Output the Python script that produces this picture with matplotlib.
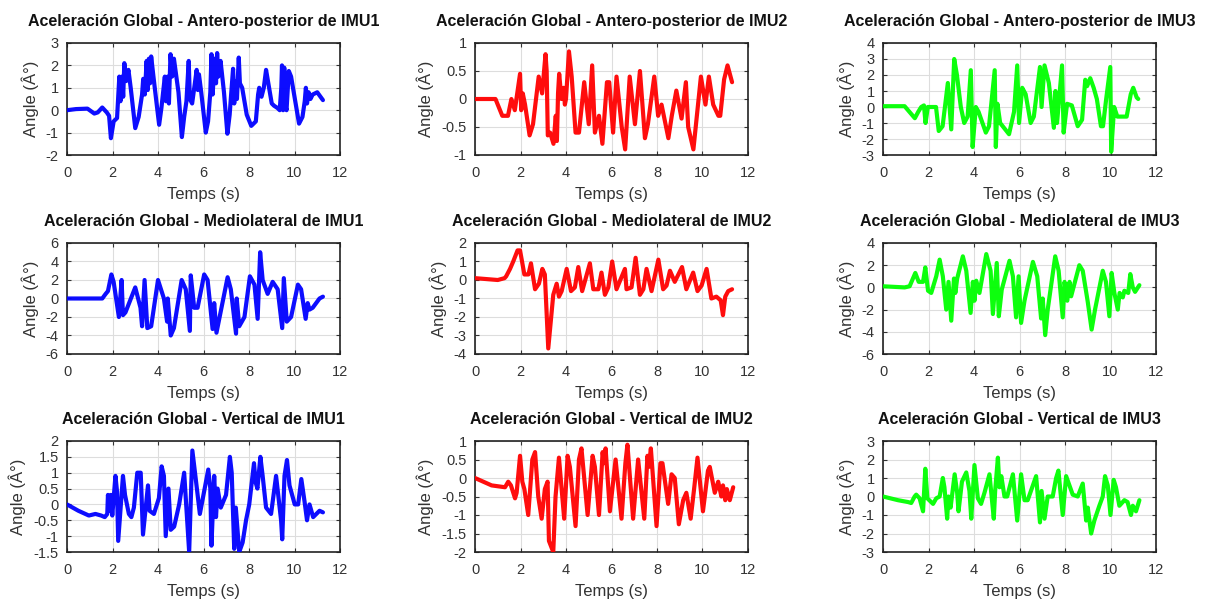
import matplotlib
matplotlib.use("Agg")
import matplotlib.pyplot as plt
import numpy as np

plt.rcParams['font.family'] = ['Liberation Sans', 'DejaVu Sans']

# ---- Antero-posterior ----
ap1_t = [0, 0.4, 0.9, 1.2, 1.35, 1.55, 1.75, 1.85, 1.93, 2.05, 2.2, 2.3, 2.35, 2.42, 2.47, 2.52, 2.6, 2.7, 2.8, 3.0, 3.15, 3.3, 3.35, 3.42, 3.5, 3.55, 3.6, 3.65, 3.7, 3.8, 3.95, 4.05, 4.15, 4.3, 4.35, 4.42, 4.48, 4.55, 4.62, 4.7, 4.9, 5.05, 5.15, 5.25, 5.35, 5.4, 5.5, 5.7, 5.75, 5.8, 5.9, 6.1, 6.2, 6.3, 6.35, 6.4, 6.5, 6.55, 6.6, 6.65, 6.75, 6.9, 7.05, 7.15, 7.2, 7.3, 7.35, 7.42, 7.47, 7.55, 7.6, 7.7, 7.9, 8.1, 8.3, 8.4, 8.45, 8.55, 8.65, 8.75, 8.85, 9.0, 9.1, 9.25, 9.35, 9.42, 9.45, 9.5, 9.55, 9.6, 9.65, 9.75, 9.85, 10.05, 10.2, 10.35, 10.45, 10.5, 10.55, 10.62, 10.7, 10.8, 11.0, 11.25]
ap1_v = [0, 0.05, 0.07, -0.15, -0.1, 0.12, -0.1, -0.25, -1.25, -0.5, -0.35, 1.5, 0.4, 1.5, 0.6, 2.1, 1.3, 1.8, 1.0, -0.8, -0.3, 0.7, 1.4, 0.7, 2.2, 0.9, 2.3, 1.2, 2.4, 1.5, 0.2, -0.65, 0.1, 1.5, 0.4, 1.5, 0.3, 2.5, 1.5, 2.3, 0.8, -1.2, -0.3, 0.4, 2.2, 0.5, 0.3, 1.8, 0.9, 1.6, 0.8, -1.0, -0.5, 0.8, 2.5, 0.7, 2.3, 1.2, 2.55, 1.5, 2.2, 0.8, -1.05, -0.2, 0.5, 1.85, 0.3, 1.3, 0.5, 2.35, 1.2, 1.0, -0.2, -0.7, -0.5, 0.7, 1.0, 0.6, 1.0, 1.8, 1.2, 0.3, 0.2, 0.1, 0.0, 1.0, 2.0, 0.0, 1.9, 0.2, 0.0, 1.75, 1.5, 0.3, -0.6, -0.3, 0.4, 1.0, 0.3, 0.8, 0.5, 0.7, 0.8, 0.45]

ap2_t = [0, 0.9, 1.2, 1.45, 1.6, 1.75, 1.98, 2.03, 2.1, 2.2, 2.4, 2.55, 2.8, 2.95, 3.1, 3.15, 3.2, 3.3, 3.45, 3.55, 3.6, 3.65, 3.7, 3.8, 3.9, 3.95, 4.0, 4.13, 4.25, 4.42, 4.57, 4.8, 5.0, 5.15, 5.27, 5.45, 5.6, 5.8, 5.9, 6.07, 6.22, 6.45, 6.6, 6.8, 7.03, 7.25, 7.47, 7.6, 7.88, 8.05, 8.2, 8.35, 8.5, 8.65, 8.85, 9.08, 9.27, 9.37, 9.6, 9.93, 10.13, 10.28, 10.47, 10.7, 10.78, 10.95, 11.1, 11.3]
ap2_v = [0, 0, -0.3, -0.3, 0.0, -0.2, 0.45, -0.2, 0.1, -0.1, -0.65, -0.45, 0.4, 0.1, 0.8, 0.5, -0.65, -0.6, -0.8, -0.3, -0.75, 0.1, 0.45, 0.0, 0.2, -0.1, 0.0, 0.85, 0.4, -0.6, -0.6, 0.3, -0.45, 0.6, -0.6, -0.3, -0.8, 0.3, 0.3, -0.6, 0.4, -0.5, -0.9, 0.4, -0.45, 0.5, -0.7, -0.45, 0.4, -0.3, -0.1, -0.4, -0.7, -0.3, 0.15, -0.35, 0.3, -0.5, -0.9, 0.4, -0.1, 0.4, -0.1, -0.3, -0.3, 0.35, 0.6, 0.3]

ap3_t = [0, 0.95, 1.4, 1.55, 1.68, 1.8, 1.87, 1.97, 2.33, 2.45, 2.62, 2.85, 3.0, 3.13, 3.25, 3.42, 3.57, 3.72, 3.86, 3.94, 4.08, 4.2, 4.52, 4.66, 4.91, 4.96, 5.03, 5.15, 5.54, 5.76, 5.9, 5.98, 6.12, 6.27, 6.49, 6.63, 6.9, 6.97, 7.1, 7.29, 7.51, 7.58, 7.65, 7.87, 7.94, 8.09, 8.3, 8.56, 8.75, 8.89, 8.97, 9.11, 9.26, 9.4, 9.58, 9.67, 9.81, 9.99, 10.03, 10.16, 10.3, 10.71, 10.89, 11.0, 11.15, 11.22]
ap3_v = [0.05, 0.05, -0.7, -0.3, 0.0, 0.1, -1.0, 0.0, 0.0, -1.5, -1.2, 1.5, -1.4, 3.0, 2.0, 0.0, -1.0, -0.6, 2.3, -2.5, 0.0, -0.3, -1.6, -1.2, 2.3, -2.5, 0.2, -1.0, -1.7, -0.3, 2.6, -1.0, 1.2, 0.8, -1.0, -0.6, 2.5, 0.0, 2.6, 1.5, -1.3, 1.0, -1.0, 2.6, -1.6, 0.2, 0.1, -1.2, -0.8, 1.7, 1.3, 1.8, 1.2, 0.5, -1.2, -1.2, 0.5, 2.5, -2.8, 0.0, -0.6, -0.6, 0.8, 1.2, 0.6, 0.5]

# ---- Mediolateral ----
ml1_t = [0, 1.55, 1.7, 1.8, 1.95, 2.05, 2.28, 2.4, 2.46, 2.57, 3.0, 3.23, 3.3, 3.41, 3.53, 3.7, 4.0, 4.26, 4.4, 4.43, 4.56, 4.7, 5.04, 5.22, 5.4, 5.44, 5.59, 5.74, 6.03, 6.18, 6.4, 6.47, 6.57, 7.06, 7.2, 7.43, 7.46, 7.57, 7.8, 8.04, 8.24, 8.38, 8.49, 8.6, 8.82, 9.04, 9.26, 9.46, 9.53, 9.66, 9.85, 10.15, 10.29, 10.49, 10.58, 10.66, 10.8, 11.1, 11.25]
ml1_v = [0.0, 0.0, 0.5, 0.8, 2.6, 1.8, -2.0, 2.0, -1.8, -1.5, 1.2, -1.0, -3.0, 2.0, -3.2, -3.0, 2.0, 0.0, -2.5, 0.0, -4.0, -3.2, 2.0, 1.0, -3.5, 2.5, -1.0, -1.0, 2.6, 2.0, -3.3, -0.5, -3.7, 2.3, 1.0, -3.8, 0.0, -3.0, -2.0, 2.4, 1.5, -2.2, 5.0, 2.0, 0.5, 1.8, 1.0, -3.2, 2.2, -2.5, -2.0, 1.5, 1.0, -2.2, -0.5, -1.2, -1.0, 0.0, 0.2]

ml2_t = [0, 1.0, 1.3, 1.37, 1.54, 1.68, 1.87, 1.98, 2.17, 2.35, 2.46, 2.64, 2.81, 2.96, 3.07, 3.22, 3.44, 3.59, 3.69, 3.81, 4.03, 4.22, 4.39, 4.54, 4.71, 5.05, 5.2, 5.42, 5.56, 5.71, 5.86, 6.03, 6.22, 6.59, 6.66, 6.88, 7.06, 7.25, 7.4, 7.54, 7.76, 8.06, 8.27, 8.42, 8.57, 8.78, 9.1, 9.29, 9.59, 9.78, 9.96, 10.18, 10.39, 10.61, 10.8, 10.9, 11.0, 11.13, 11.3]
ml2_v = [0.1, 0.0, 0.1, 0.2, 0.6, 1.0, 1.6, 1.6, 0.3, 0.3, 0.9, -0.5, -0.2, 0.6, 0.3, -3.7, -0.8, -0.2, -0.9, -0.6, 0.6, -0.6, -0.4, 0.7, -0.6, 0.9, -0.5, -0.5, 0.4, -0.8, -0.4, 1.0, -0.5, 0.6, -0.5, -0.4, 1.2, -0.8, -0.5, 0.6, -0.6, 1.1, -0.5, -0.3, 0.5, -0.1, 0.7, -0.5, 0.4, -0.6, -0.3, 0.6, -1.0, -0.9, -1.1, -1.9, -0.9, -0.6, -0.5]

ml3_t = [0, 0.95, 1.17, 1.42, 1.57, 1.76, 1.86, 1.98, 2.12, 2.34, 2.49, 2.63, 2.78, 2.88, 3.0, 3.12, 3.18, 3.26, 3.51, 3.66, 3.85, 3.95, 4.02, 4.1, 4.24, 4.54, 4.73, 4.83, 5.0, 5.09, 5.22, 5.56, 5.71, 5.85, 5.96, 6.07, 6.22, 6.59, 6.78, 6.95, 7.02, 7.13, 7.24, 7.57, 7.72, 7.9, 7.98, 8.1, 8.2, 8.27, 8.63, 8.78, 9.0, 9.17, 9.32, 9.66, 9.8, 9.95, 10.05, 10.17, 10.32, 10.4, 10.54, 10.61, 10.78, 10.87, 10.98, 11.08, 11.27]
ml3_v = [0.1, 0.0, 0.1, 1.3, 0.5, 0.5, 1.8, -0.3, -0.5, 1.0, 2.5, 1.0, -2.0, 0.5, -3.0, 0.8, -0.5, 0.8, 2.8, 1.5, -2.3, 0.5, -1.2, 0.6, -0.5, 3.0, 1.5, -2.4, 2.2, -2.6, -0.2, 2.4, 1.0, -2.7, 1.0, -3.2, -1.2, 2.3, 1.0, -2.8, -1.0, -4.3, -2.0, 2.8, 1.5, -2.7, 0.5, -1.2, 0.5, -0.8, 2.0, 1.5, -1.3, -3.8, -2.0, 1.5, 0.5, -2.6, 1.3, -0.5, -2.0, -0.5, -0.9, -0.3, -0.5, 1.2, 0.0, -0.4, 0.2]

# ---- Vertical ----
v1_t = [0, 0.5, 0.96, 1.25, 1.5, 1.66, 1.77, 1.8, 1.86, 1.93, 1.99, 2.13, 2.2, 2.25, 2.46, 2.55, 2.72, 2.83, 2.94, 3.09, 3.24, 3.34, 3.56, 3.63, 3.82, 4.04, 4.16, 4.26, 4.34, 4.46, 4.56, 4.71, 4.93, 5.15, 5.37, 5.51, 5.66, 5.84, 6.21, 6.3, 6.35, 6.47, 6.55, 6.62, 6.76, 6.99, 7.16, 7.24, 7.35, 7.42, 7.57, 7.72, 7.87, 8.01, 8.22, 8.29, 8.37, 8.5, 8.6, 8.75, 8.97, 9.19, 9.41, 9.46, 9.56, 9.67, 9.78, 10.01, 10.16, 10.3, 10.44, 10.55, 10.66, 10.82, 11.1, 11.25]
v1_v = [0.0, -0.2, -0.35, -0.3, -0.35, -0.4, -0.3, 0.3, -0.2, 0.3, -0.35, 0.9, 0.4, -1.15, 0.9, 0.3, -0.3, -0.4, -0.1, 1.0, 1.0, -0.95, 0.6, -0.2, -0.3, 0.2, 1.2, 0.9, -1.0, 0.5, -0.8, -0.7, 0.0, 1.0, -1.5, 1.7, 0.8, -0.3, 1.1, 0.5, -1.3, 0.9, -0.4, 0.5, -0.1, 0.3, 1.5, 1.0, -1.4, -0.1, -1.5, -1.2, -0.5, 0.0, 1.3, 0.7, 0.5, 1.5, 0.9, -0.1, -0.3, 0.9, -0.5, -1.1, 0.9, 1.4, 0.6, 0.0, 0.0, 0.8, 0.1, -0.5, 0.0, -0.4, -0.2, -0.25]

v2_t = [0, 0.73, 1.32, 1.46, 1.58, 1.76, 1.83, 1.98, 2.08, 2.17, 2.34, 2.52, 2.64, 2.78, 2.93, 3.07, 3.19, 3.25, 3.44, 3.54, 3.69, 3.92, 4.07, 4.17, 4.42, 4.57, 4.68, 4.95, 5.17, 5.27, 5.45, 5.61, 5.67, 5.74, 5.93, 6.18, 6.44, 6.61, 6.7, 6.95, 7.17, 7.44, 7.58, 7.64, 7.73, 7.98, 8.15, 8.24, 8.49, 8.64, 8.78, 8.96, 9.15, 9.29, 9.48, 9.63, 9.78, 10.02, 10.24, 10.32, 10.54, 10.69, 10.83, 10.9, 11.0, 11.07, 11.2, 11.35]
v2_v = [0.0, -0.2, -0.25, -0.1, -0.2, -0.55, -0.4, 0.6, -0.1, -0.3, -1.0, 0.5, 0.7, -0.5, -1.1, -0.3, -0.1, -1.7, -2.0, -0.5, 0.55, -1.1, 0.6, 0.3, -1.3, 0.5, 0.8, -1.0, 0.6, 0.3, -1.0, 0.7, 0.4, 0.8, -0.9, 0.5, -1.1, 0.4, 0.9, -1.1, 0.5, -1.1, 0.6, 0.3, 0.8, -1.3, 0.4, 0.4, -0.7, 0.1, 0.0, -1.25, -0.6, -0.4, -1.1, -0.3, 0.55, -0.9, 0.2, 0.3, -0.4, -0.1, -0.5, -0.2, -0.6, -0.3, -0.6, -0.25]

v3_t = [0, 0.66, 1.1, 1.24, 1.39, 1.46, 1.61, 1.76, 1.86, 1.95, 2.2, 2.34, 2.49, 2.63, 2.7, 2.82, 2.88, 2.97, 3.15, 3.26, 3.32, 3.47, 3.66, 3.8, 3.88, 4.02, 4.17, 4.31, 4.46, 4.68, 4.87, 4.93, 5.05, 5.12, 5.2, 5.34, 5.46, 5.71, 5.9, 6.07, 6.22, 6.36, 6.73, 6.9, 6.97, 7.1, 7.24, 7.46, 7.61, 7.71, 7.9, 8.05, 8.34, 8.56, 8.78, 8.93, 9.0, 9.15, 9.29, 9.51, 9.66, 9.76, 9.88, 10.0, 10.14, 10.24, 10.39, 10.61, 10.75, 10.9, 10.98, 11.12, 11.27]
v3_v = [0.0, -0.2, -0.3, -0.35, 0.0, 0.1, -0.1, -0.8, 1.5, -0.1, -0.4, -0.1, 0.0, 1.0, 0.5, -1.2, 0.0, -0.6, 1.2, 0.2, -0.8, 0.8, 1.3, 0.3, -1.2, 1.7, -0.1, -0.4, 0.2, 1.2, -1.2, 0.3, 2.1, 0.5, 1.1, 0.0, 0.0, 1.2, -1.3, 1.2, -0.2, -0.2, 1.1, -1.4, 0.3, -1.2, 0.0, 0.0, 1.0, 1.4, -1.0, 1.1, 0.1, 0.0, 0.7, -1.3, -0.6, -2.0, -1.3, -0.5, 0.0, 1.1, 0.6, -1.0, 0.9, 0.5, -0.5, -0.2, -0.3, -1.0, -0.5, -0.8, -0.2]

titles = [
    "Aceleración Global - Antero-posterior de IMU1",
    "Aceleración Global - Antero-posterior de IMU2",
    "Aceleración Global - Antero-posterior de IMU3",
    "Aceleración Global - Mediolateral de IMU1",
    "Aceleración Global - Mediolateral de IMU2",
    "Aceleración Global - Mediolateral de IMU3",
    "Aceleración Global - Vertical de IMU1",
    "Aceleración Global - Vertical de IMU2",
    "Aceleración Global - Vertical de IMU3",
]
series = [(ap1_t, ap1_v), (ap2_t, ap2_v), (ap3_t, ap3_v),
          (ml1_t, ml1_v), (ml2_t, ml2_v), (ml3_t, ml3_v),
          (v1_t, v1_v), (v2_t, v2_v), (v3_t, v3_v)]
colors = ["#0000ff", "#ff0000", "#00ff00"]
ylims = [(-2, 3), (-1, 1), (-3, 4),
         (-6, 6), (-4, 2), (-6, 4),
         (-1.5, 2), (-2, 1), (-3, 3)]
yticks = [np.arange(-2, 3.1, 1), np.arange(-1, 1.01, 0.5), np.arange(-3, 4.1, 1),
          np.arange(-6, 6.1, 2), np.arange(-4, 2.1, 1), np.arange(-6, 4.1, 2),
          np.arange(-1.5, 2.01, 0.5), np.arange(-2, 1.01, 0.5), np.arange(-3, 3.1, 1)]
xticks = [0, 2, 4, 6, 8, 10, 12]

W, H = 1215, 602
fig = plt.figure(figsize=(W / 100, H / 100), dpi=100)

col_left = [67, 475, 883]
row_top = [43, 243, 441]
row_bot = [155, 354, 552]
ax_w = 273
text_col = "#333333"

for i in range(9):
    r, c = divmod(i, 3)
    left = col_left[c] / W
    bottom = 1 - row_bot[r] / H
    height = (row_bot[r] - row_top[r]) / H
    ax = fig.add_axes([left, bottom, ax_w / W, height])
    t, v = series[i]
    ax.plot(t, v, color=colors[c], lw=3.0, alpha=0.95,
            solid_joinstyle='round', solid_capstyle='round', zorder=3)
    ax.set_xlim(0, 12)
    ax.set_ylim(*ylims[i])
    ax.set_xticks(xticks)
    ax.set_yticks(yticks[i])
    ax.set_yticklabels(["%g" % y for y in yticks[i]])
    ax.grid(True, color="#dddddd", lw=0.8)
    ax.set_axisbelow(True)
    ax.tick_params(direction='in', top=True, right=True, length=3,
                   labelsize=10.5, colors=text_col)
    ax.tick_params(axis='x', pad=8)
    ax.tick_params(axis='y', pad=6)
    for sp in ax.spines.values():
        sp.set_linewidth(1.2)
        sp.set_color("#222222")
    ax.set_title(titles[i], fontsize=11.5, fontweight='bold', pad=12, color="#111111")
    ax.set_xlabel("Temps (s)", fontsize=12, color=text_col, labelpad=5)
    ax.set_ylabel("Angle (Â°)", fontsize=12, color=text_col, labelpad=5)

fig.savefig("out.png", dpi=100)
